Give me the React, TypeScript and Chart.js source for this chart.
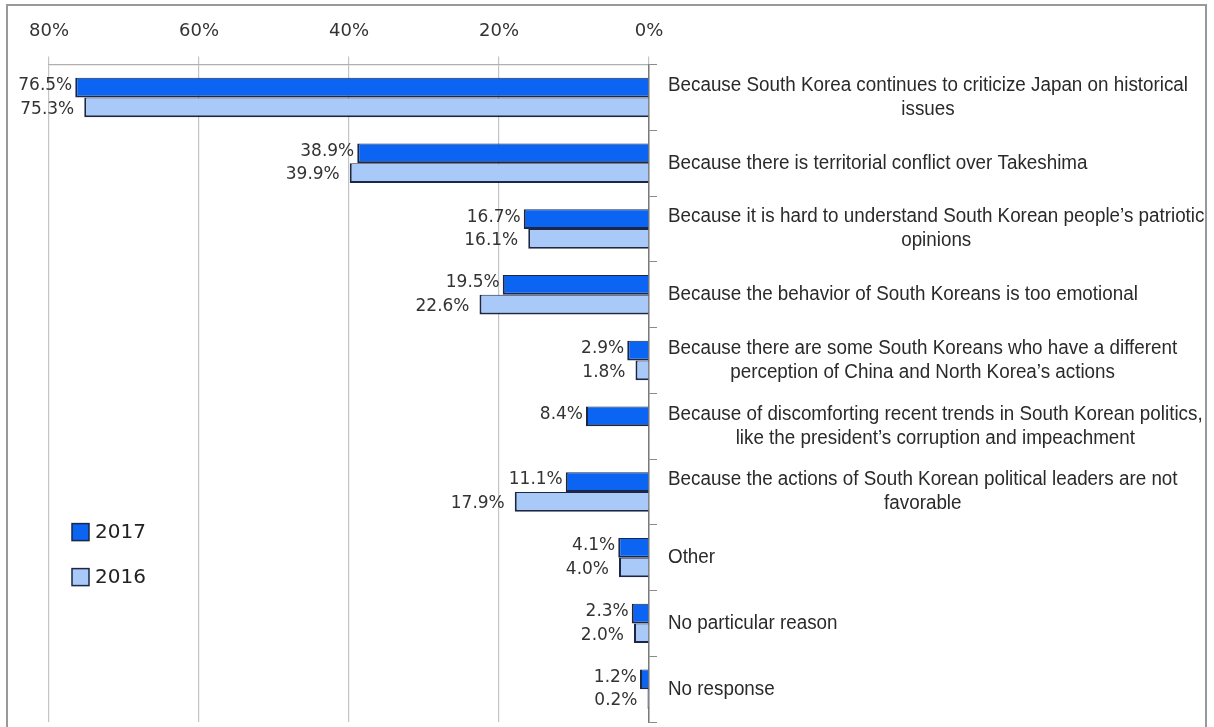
import React, { useEffect, useRef } from "react";
import { Chart, registerables } from "chart.js";

Chart.register(...registerables);

// ---------- data ----------
const categories: string[][] = [
  ["Because South Korea continues to criticize Japan on historical", "issues"],
  ["Because there is territorial conflict over Takeshima"],
  ["Because it is hard to understand South Korean people\u2019s patriotic", "opinions"],
  ["Because the behavior of South Koreans is too emotional"],
  ["Because there are some South Koreans who have a different", "perception of China and North Korea\u2019s actions"],
  ["Because of discomforting recent trends in South Korean politics,", "like the president\u2019s corruption and impeachment"],
  ["Because the actions of South Korean political leaders are not", "favorable"],
  ["Other"],
  ["No particular reason"],
  ["No response"],
];
const values2017: (number | null)[] = [76.5, 38.9, 16.7, 19.5, 2.9, 8.4, 11.1, 4.1, 2.3, 1.2];
const values2016: (number | null)[] = [75.3, 39.9, 16.1, 22.6, 1.8, null, 17.9, 4.0, 2.0, 0.2];
const seriesLabels = ["2017", "2016"];
const xTickValues = [0, 20, 40, 60, 80];

// ---------- styles ----------
const COLOR_2017 = "#0b64f2";
const COLOR_2016 = "#a9c9f8";
const BAR_BORDER = "#1b2745";
const TEXT = "#333333";
const CAT_FONT = '20px "Liberation Sans", Arial, sans-serif';
const CAT_FIRST_LINE_WIDTH = 520; // condensed look of the original labels

const framePlugin = {
  id: "frame",
  beforeDraw(chart: any) {
    const ctx = chart.ctx;
    ctx.save();
    ctx.fillStyle = "#ffffff";
    ctx.fillRect(0, 0, chart.width, chart.height);
    ctx.strokeStyle = "#999999";
    ctx.lineWidth = 2;
    ctx.strokeRect(7, 5, 1199, 780);
    ctx.restore();
  },
};

const dataLabelPlugin = {
  id: "dataLabels",
  afterDatasetsDraw(chart: any) {
    const ctx = chart.ctx;
    ctx.save();
    ctx.font = '17px "DejaVu Sans", sans-serif';
    ctx.fillStyle = TEXT;
    ctx.textAlign = "right";
    ctx.textBaseline = "middle";
    chart.data.datasets.forEach((ds: any, di: number) => {
      const meta = chart.getDatasetMeta(di);
      meta.data.forEach((el: any, i: number) => {
        const v = ds.data[i];
        if (v === null || v === undefined) return;
        const gap = di === 0 ? 3 : 10;
        const dy = di === 0 ? -2 : 2;
        ctx.fillText(v.toFixed(1) + "%", el.x - gap, el.y + dy);
      });
    });
    ctx.restore();
  },
};

const categoryLabelPlugin = {
  id: "categoryLabels",
  afterDraw(chart: any) {
    const ctx = chart.ctx;
    const yScale = chart.scales.y;
    const left = chart.chartArea.right + 19;
    const lineH = 24;
    ctx.save();
    ctx.font = CAT_FONT;
    ctx.fillStyle = "#2a2a2a";
    ctx.textAlign = "center";
    ctx.textBaseline = "middle";
    const sx = CAT_FIRST_LINE_WIDTH / ctx.measureText(categories[0][0]).width;
    categories.forEach((lines, i) => {
      const cy = yScale.getPixelForValue(i);
      const w = Math.max(...lines.map((l) => ctx.measureText(l).width)) * sx;
      const cx = left + w / 2;
      const y0 = cy - ((lines.length - 1) * lineH) / 2;
      lines.forEach((l, k) => {
        ctx.save();
        ctx.translate(cx, y0 + k * lineH);
        ctx.scale(sx, 1);
        ctx.fillText(l, 0, 0);
        ctx.restore();
      });
    });
    ctx.restore();
  },
};

const legendPlugin = {
  id: "customLegend",
  afterDraw(chart: any) {
    const ctx = chart.ctx;
    const x = chart.chartArea.left + 23;
    const yStart = chart.chartArea.top + 459;
    const rowGap = 45;
    ctx.save();
    ctx.font = '20px "DejaVu Sans", sans-serif';
    ctx.textBaseline = "middle";
    ctx.textAlign = "left";
    chart.data.datasets.forEach((ds: any, i: number) => {
      const y = yStart + i * rowGap;
      ctx.fillStyle = ds.backgroundColor;
      ctx.fillRect(x, y, 17, 17);
      ctx.strokeStyle = BAR_BORDER;
      ctx.lineWidth = 1.5;
      ctx.strokeRect(x, y, 17, 17);
      ctx.fillStyle = "#222222";
      ctx.fillText(ds.label, x + 23, y + 9);
    });
    ctx.restore();
  },
};

export default function App() {
  const ref = useRef<HTMLCanvasElement | null>(null);

  useEffect(() => {
    if (!ref.current) return;
    const chart = new Chart(ref.current, {
      type: "bar",
      data: {
        labels: categories.map((c) => c.join(" ")),
        datasets: [
          {
            label: seriesLabels[0],
            data: values2017,
            backgroundColor: COLOR_2017,
            borderColor: BAR_BORDER,
            borderWidth: { top: 1, right: 0, bottom: 2, left: 2 },
            categoryPercentage: 0.6,
            barPercentage: 1,
          },
          {
            label: seriesLabels[1],
            data: values2016,
            backgroundColor: COLOR_2016,
            borderColor: BAR_BORDER,
            borderWidth: { top: 1, right: 0, bottom: 2, left: 2 },
            categoryPercentage: 0.6,
            barPercentage: 1,
          },
        ],
      },
      options: {
        indexAxis: "y",
        responsive: false,
        animation: false,
        layout: { padding: { left: 49, right: 0, top: 7, bottom: 5 } },
        plugins: {
          legend: { display: false },
          tooltip: { enabled: false },
        },
        scales: {
          x: {
            position: "top",
            reverse: true,
            min: 0,
            max: 80,
            afterBuildTicks: (s: any) => {
              s.ticks = xTickValues.map((v) => ({ value: v }));
            },
            ticks: {
              callback: (v: any) => v + "%",
              font: { family: "DejaVu Sans", size: 18 },
              color: TEXT,
              padding: 14,
              maxRotation: 0,
            },
            grid: { color: "#c4c4c4", lineWidth: 1.2, tickLength: 8, drawTicks: true },
            border: { display: true, color: "#b0b0b0", width: 1.2 },
          },
          y: {
            position: "right",
            ticks: { display: false },
            grid: {
              display: true,
              drawOnChartArea: false,
              drawTicks: true,
              tickLength: 8,
              color: "#8a8a8a",
              offset: true,
            },
            border: { display: true, color: "#7a7a7a", width: 1.5 },
            afterFit: (s: any) => {
              s.width = 565;
            },
          },
        },
      },
      plugins: [framePlugin, dataLabelPlugin, categoryLabelPlugin, legendPlugin],
    } as any);
    return () => chart.destroy();
  }, []);

  return (
    <div style={{ position: "absolute", left: 0, top: 0, width: 1214, height: 727, overflow: "hidden" }}>
      <canvas ref={ref} width={1214} height={727} style={{ display: "block", width: 1214, height: 727 }} />
    </div>
  );
}
